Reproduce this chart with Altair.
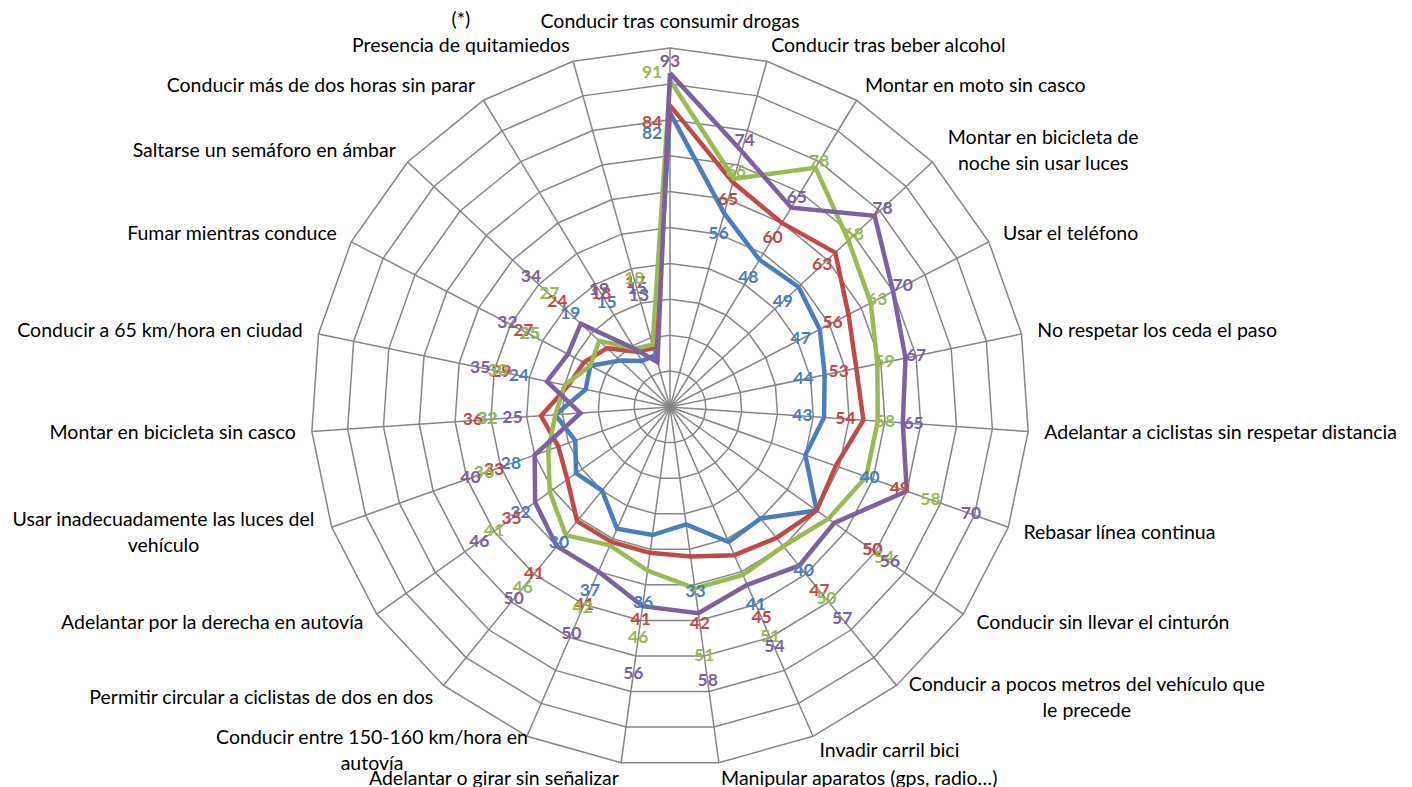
import math
import altair as alt
import pandas as pd

categories = [
    "Conducir tras consumir drogas",
    "Conducir tras beber alcohol",
    "Montar en moto sin casco",
    "Montar en bicicleta de\nnoche sin usar luces",
    "Usar el teléfono",
    "No respetar los ceda el paso",
    "Adelantar a ciclistas sin respetar distancia",
    "Rebasar línea continua",
    "Conducir sin llevar el cinturón",
    "Conducir a pocos metros del vehículo que\nle precede",
    "Invadir carril bici",
    "Manipular aparatos  (gps, radio…)",
    "Adelantar o girar sin señalizar",
    "Conducir entre 150-160 km/hora en\nautovía",
    "Permitir circular a ciclistas de dos en dos",
    "Adelantar por la derecha en autovía",
    "Usar inadecuadamente las luces del\nvehículo",
    "Montar en bicicleta sin casco",
    "Conducir a 65 km/hora en ciudad",
    "Fumar mientras conduce",
    "Saltarse un semáforo en ámbar",
    "Conducir más de dos horas sin parar",
    "(*)\nPresencia de quitamiedos",
]

series_names = ["Serie 1", "Serie 2", "Serie 3", "Serie 4"]
serie_1 = [82, 56, 48, 49, 47, 44, 43, 40, 50, 40, 41, 33, 36, 37, 30, 32, 28, 32, 24, 25, 19, 15, 15]
serie_2 = [84, 65, 60, 63, 56, 53, 54, 49, 50, 47, 45, 42, 41, 41, 41, 35, 33, 36, 29, 27, 24, 18, 17]
serie_3 = [91, 66, 78, 68, 63, 59, 58, 58, 54, 50, 51, 51, 46, 42, 46, 41, 36, 32, 30, 25, 27, 19, 18]
serie_4 = [93, 74, 65, 78, 70, 67, 65, 70, 56, 57, 54, 58, 56, 50, 50, 46, 40, 25, 35, 32, 34, 19, 13]
series_values = [serie_1, serie_2, serie_3, serie_4]
colors = ["#4A7EBB", "#BE4B48", "#98B954", "#7D60A0"]

ring_levels = list(range(10, 101, 10))
r_max = 100

# layout constants (pixels)
S = 3.59
W, H = 1396, 780
CX, CY = 662, 399
xdom = [-CX / S, (W - CX) / S]
ydom = [-(H - CY) / S, CY / S]
LH = 26  # category label line height (px)

n = len(categories)
angles = [2 * math.pi * k / n for k in range(n)]

xs = alt.Scale(domain=xdom, nice=False, zero=False)
ys = alt.Scale(domain=ydom, nice=False, zero=False)
X = lambda f: alt.X(f, type="quantitative", scale=xs, axis=None)
Y = lambda f: alt.Y(f, type="quantitative", scale=ys, axis=None)

grid_color = "#868686"

# rings
ring_rows = []
for lv in ring_levels:
    for i in range(n + 1):
        a = angles[i % n]
        ring_rows.append({"ring": lv, "o": i, "x": lv * math.sin(a), "y": lv * math.cos(a)})
rings = alt.Chart(pd.DataFrame(ring_rows)).mark_line(color=grid_color, strokeWidth=1.5).encode(
    x=X("x"), y=Y("y"), detail="ring:N", order="o:Q")

# spokes
spoke_rows = [{"x0": 0.0, "y0": 0.0, "x1": r_max * math.sin(a), "y1": r_max * math.cos(a)} for a in angles]
spokes = alt.Chart(pd.DataFrame(spoke_rows)).mark_rule(color=grid_color, strokeWidth=1.5).encode(
    x=X("x0"), y=Y("y0"), x2="x1:Q", y2="y1:Q")

# series
line_rows, lab_rows = [], []
nudge = {"Serie 1": -6, "Serie 2": -5, "Serie 3": 2, "Serie 4": 3}
for si, (name, vals) in enumerate(zip(series_names, series_values)):
    for i in range(n + 1):
        k = i % n
        a = angles[k]
        v = vals[k]
        line_rows.append({"serie": name, "si": si, "o": i, "x": v * math.sin(a), "y": v * math.cos(a)})
    for k in range(n):
        a = angles[k]
        deg = math.degrees(a)
        v = vals[k]
        off = 19 if deg >= 100 else nudge[name]
        r = v + off
        lx, ly = r * math.sin(a), r * math.cos(a)
        top_of_column = max(sv[k] for sv in series_values)
        if abs(math.sin(a)) < 0.02 and v != top_of_column:
            lx -= 5
        lab_rows.append({"serie": name, "si": si, "v": str(v), "lx": lx, "ly": ly})

cscale = alt.Scale(domain=series_names, range=colors)
lines = alt.Chart(pd.DataFrame(line_rows)).mark_line(strokeWidth=4.5, strokeJoin="miter").encode(
    x=X("x"), y=Y("y"),
    color=alt.Color("serie:N", scale=cscale, legend=None),
    detail="serie:N", order="o:Q")

data_labels = alt.Chart(pd.DataFrame(lab_rows)).mark_text(
    font="Lato", fontSize=17.5, fontWeight="bold", align="center", baseline="middle").encode(
    x=X("lx"), y=Y("ly"), text="v:N",
    color=alt.Color("serie:N", scale=cscale, legend=None),
    order="si:Q")

# category labels
r_lab = 104.5
char_w = 9.0 / S
cat_rows = []
for k, txt in enumerate(categories):
    a = angles[k]
    sx, cy = math.sin(a), math.cos(a)
    lines_txt = txt.split("\n")
    nl = len(lines_txt)
    x = r_lab * sx
    y = r_lab * cy
    if abs(sx) < 0.02:
        align = "center"
    elif sx > 0:
        align = "left"
    else:
        align = "right"
    baseline = "middle"
    if abs(sx) < 0.02:
        baseline = "bottom"
    if nl > 1:
        w = max(len(t) for t in lines_txt) * char_w
        x = x + w / 2 if sx > 0 else x - w / 2
        align = "center"
        # first line is drawn at the anchor: lift the block
        if cy > 0.9:
            y += (nl - 1) * LH / S
        else:
            y += (nl - 1) * LH / 2 / S
    cat_rows.append({"t": txt, "x": x, "y": y, "align": align, "baseline": baseline})
cat_df = pd.DataFrame(cat_rows)

cat_layers = []
for (al, bl), grp in cat_df.groupby(["align", "baseline"]):
    cat_layers.append(
        alt.Chart(grp.reset_index(drop=True)).mark_text(
            font="Lato", fontSize=19.5, color="#000000", align=al, baseline=bl, lineBreak="\n", lineHeight=LH
        ).encode(x=X("x"), y=Y("y"), text="t:N")
    )

chart = alt.layer(rings, spokes, lines, data_labels, *cat_layers).properties(
    width=W, height=H, autosize=alt.AutoSizeParams(type="none"), padding=0
).configure_view(stroke=None)

chart.save("out.html", embed_options={"renderer": "svg", "actions": False})
